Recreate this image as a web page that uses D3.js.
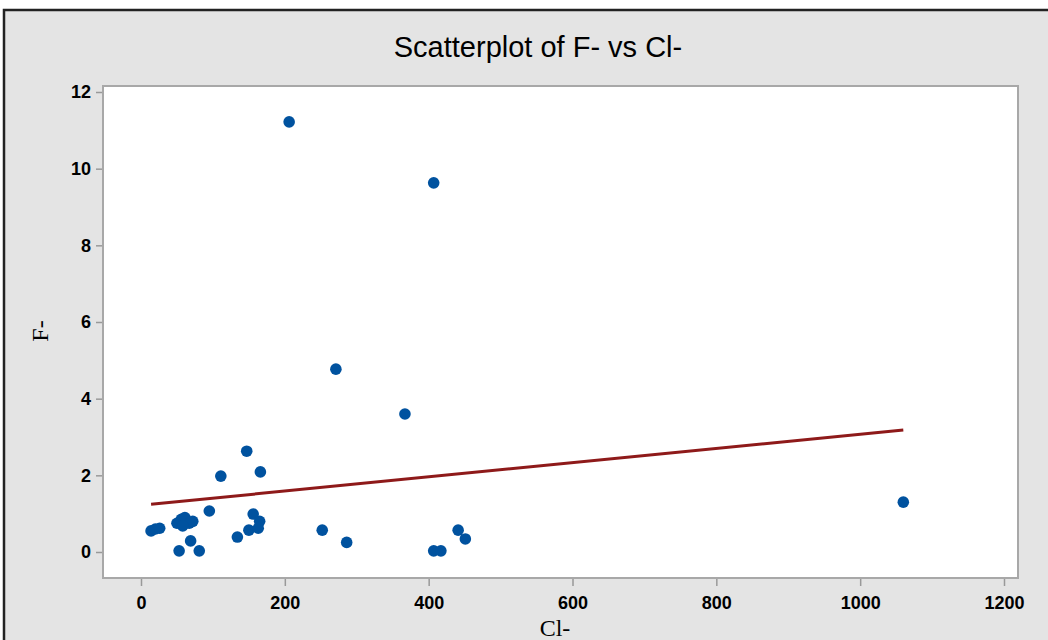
<!DOCTYPE html>
<html>
<head>
<meta charset="utf-8">
<script src="https://cdn.jsdelivr.net/npm/d3@7"></script>
<style>
  html, body { margin: 0; padding: 0; background: #fff; }
  svg { display: block; }
</style>
</head>
<body>
<svg id="chart" width="1048" height="640"></svg>
<script>
// ---- data ----
const clValues = [206, 407, 271, 367, 147, 111, 166, 95, 1060, 252, 286, 441, 451, 407, 417,
                  14, 20, 26, 50, 56, 61, 67, 72, 58, 69, 53, 81, 156, 165, 150, 163, 134];
const fValues  = [11.22, 9.63, 4.77, 3.6, 2.63, 1.98, 2.09, 1.07, 1.3, 0.57, 0.25, 0.57, 0.34, 0.03, 0.03,
                  0.55, 0.6, 0.62, 0.75, 0.85, 0.9, 0.75, 0.8, 0.68, 0.29, 0.03, 0.03, 0.99, 0.8, 0.57, 0.62, 0.39];
const xTicks = [0, 200, 400, 600, 800, 1000, 1200];
const yTicks = [0, 2, 4, 6, 8, 10, 12];
// fitted line F- = a + b*Cl-
const fitIntercept = 1.22;
const fitSlope = 0.00185;
const fitRange = [14, 1060];

const svg = d3.select("#chart");

// outer background + frame
svg.append("rect").attr("x", 4).attr("y", 10).attr("width", 1100).attr("height", 700)
  .attr("fill", "#e4e4e4").attr("stroke", "#222").attr("stroke-width", 2.5);

const plot = { left: 103, top: 86, right: 1018, bottom: 578 };

const x = d3.scaleLinear().domain([0, 1200]).range([141, 1004]);
const y = d3.scaleLinear().domain([0, 12]).range([552, 92]);

svg.append("rect")
  .attr("x", plot.left).attr("y", plot.top)
  .attr("width", plot.right - plot.left).attr("height", plot.bottom - plot.top)
  .attr("fill", "#fff").attr("stroke", "#a8a8a8").attr("stroke-width", 2);

// axes
const xAxis = svg.append("g")
  .attr("transform", "translate(0," + (plot.bottom + 1) + ")")
  .call(d3.axisBottom(x).tickValues(xTicks).tickFormat(d3.format("d"))
    .tickSize(7).tickSizeOuter(0).tickPadding(5));
const yAxis = svg.append("g")
  .attr("transform", "translate(" + (plot.left - 1) + ",0)")
  .call(d3.axisLeft(y).tickValues(yTicks).tickFormat(d3.format("d"))
    .tickSize(6).tickSizeOuter(0).tickPadding(5));

[xAxis, yAxis].forEach(g => {
  g.select(".domain").remove();
  g.selectAll(".tick line").attr("stroke", "#999").attr("stroke-width", 1.5);
  g.selectAll("text")
    .attr("fill", "#000")
    .style("font-family", "'Liberation Sans Narrow', 'Arial Narrow', sans-serif")
    .style("font-weight", "bold")
    .style("font-size", "18px");
});
xAxis.selectAll("text").attr("dy", "1em");

// regression line
svg.append("line")
  .attr("x1", x(fitRange[0])).attr("y1", y(fitIntercept + fitSlope * fitRange[0]))
  .attr("x2", x(fitRange[1])).attr("y2", y(fitIntercept + fitSlope * fitRange[1]))
  .attr("stroke", "#8e1a1a").attr("stroke-width", 3);

// points
svg.append("g").selectAll("circle")
  .data(clValues.map((c, i) => [c, fValues[i]]))
  .join("circle")
  .attr("cx", d => x(d[0]))
  .attr("cy", d => y(d[1]))
  .attr("r", 5.8)
  .attr("fill", "#00529f");

// title and axis titles
svg.append("text")
  .attr("x", 538).attr("y", 57)
  .attr("text-anchor", "middle")
  .style("font-family", "'Liberation Sans Narrow', 'Arial Narrow', sans-serif")
  .style("font-size", "29px")
  .text("Scatterplot of F- vs Cl-");

svg.append("text")
  .attr("transform", "translate(48,331) rotate(-90)")
  .attr("text-anchor", "middle")
  .style("font-family", "'Liberation Serif', serif")
  .style("font-size", "24px")
  .text("F-");

svg.append("text")
  .attr("x", 555).attr("y", 636)
  .attr("text-anchor", "middle")
  .style("font-family", "'Liberation Serif', serif")
  .style("font-size", "24px")
  .text("Cl-");
</script>
</body>
</html>
